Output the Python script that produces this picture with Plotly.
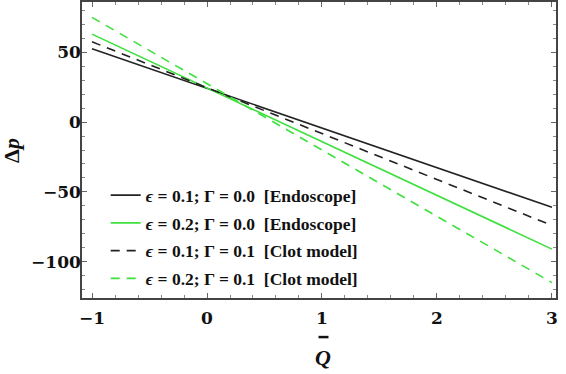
import plotly.graph_objects as go

# Data: straight lines read at Q = -1 and Q = 3
q_vals = [-1, 3]
dp_e01_g00 = [52.5, -61]
dp_e02_g00 = [63, -91]
dp_e01_g01 = [57.5, -74]
dp_e02_g01 = [75, -115]

names = [
    "<i>ϵ</i> = 0.1; Γ = 0.0  [Endoscope]",
    "<i>ϵ</i> = 0.2; Γ = 0.0  [Endoscope]",
    "<i>ϵ</i> = 0.1; Γ = 0.1  [Clot model]",
    "<i>ϵ</i> = 0.2; Γ = 0.1  [Clot model]",
]
x_ticks = [-1, 0, 1, 2, 3]
y_ticks = [-100, -50, 0, 50]

BLACK = "#222222"
GREEN = "#3ee03e"
series = [
    (dp_e01_g00, BLACK, "solid"),
    (dp_e02_g00, GREEN, "solid"),
    (dp_e01_g01, BLACK, "9px,7px"),
    (dp_e02_g01, GREEN, "9px,7px"),
]

fig = go.Figure()
for i, ((ys, col, dash), nm) in enumerate(zip(series, names)):
    fig.add_trace(go.Scatter(x=q_vals, y=ys, mode="lines", name=nm, legendgroup=f"g{i}",
                             line=dict(color=col, width=1.6, dash=dash)))

serif = "Liberation Serif"
tickserif = "DejaVu Serif"
axis_common = dict(
    showgrid=False, zeroline=False, showline=True, linecolor="#444444", linewidth=1.5,
    mirror="allticks", ticks="inside", ticklen=5, tickcolor="#666666",
    tickfont=dict(family=tickserif, size=17, color="#111111", weight="bold"),
    automargin=False,
)
fig.update_layout(
    width=566, height=374,
    margin=dict(l=82, r=10, t=2, b=76),
    paper_bgcolor="white", plot_bgcolor="white",
    xaxis=dict(range=[-1.087, 3.035], tickvals=x_ticks,
               minor=dict(dtick=0.2, ticks="inside", ticklen=3, tickcolor="#888888"),
               ticklabelstandoff=4,
               **axis_common),
    yaxis=dict(range=[-126, 86], tickvals=y_ticks,
               minor=dict(dtick=10, ticks="inside", ticklen=3, tickcolor="#888888"),
               ticklabelstandoff=-4,
               **axis_common),
    legend=dict(x=0.05, y=0.006, xanchor="left", yanchor="bottom",
                bgcolor="rgba(0,0,0,0)",
                font=dict(family=serif, size=17.5, color="#111111", weight="bold"),
                itemwidth=30, tracegroupgap=2),
    showlegend=True,
    annotations=[
        dict(text="<b>Δ<i>p</i></b>", textangle=-90, xref="paper", yref="paper",
             x=-0.15, y=0.5, showarrow=False, xanchor="center", yanchor="middle",
             font=dict(family=serif, size=22, color="#111111")),
        dict(text="<b><i>Q</i></b>", xref="paper", yref="paper", x=0.508, y=-0.2,
             showarrow=False, xanchor="center", yanchor="middle",
             font=dict(family=serif, size=22, color="#111111")),
    ],
    shapes=[
        dict(type="line", xref="paper", yref="paper", x0=0.499, x1=0.52, y0=-0.132, y1=-0.132,
             line=dict(color="#111111", width=2.5)),
    ],
)
fig.write_html("out.html", config={"displayModeBar": False},
               post_script="document.body.style.margin='0';")
